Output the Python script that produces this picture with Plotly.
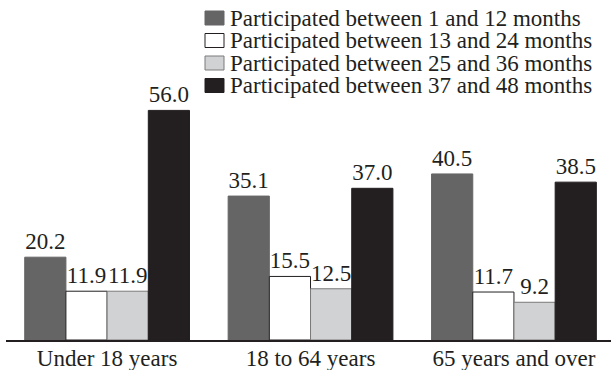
import plotly.graph_objects as go

categories = ["Under 18 years", "18 to 64 years", "65 years and over"]
series_names = [
    "Participated between 1 and 12 months",
    "Participated between 13 and 24 months",
    "Participated between 25 and 36 months",
    "Participated between 37 and 48 months",
]
values_1_12 = [20.2, 35.1, 40.5]
values_13_24 = [11.9, 15.5, 11.7]
values_25_36 = [11.9, 12.5, 9.2]
values_37_48 = [56.0, 37.0, 38.5]

series_values = [values_1_12, values_13_24, values_25_36, values_37_48]
fills = ["#666566", "#ffffff", "#d1d2d4", "#231f20"]
outlines = ["#666566", "#231f20", "#7a7a7a", "#231f20"]

FONT = "Liberation Serif"
INK = "#231f20"
FS = 23

W, H = 612, 370
ML, MR, MT, MB = 6, 1, 94, 30
PW, PH = W - ML - MR, H - MT - MB


def px_x(x):
    return (x - ML) / PW


def px_y(y):
    return (H - MB - y) / PH


fig = go.Figure()
for name, vals, fill, edge in zip(series_names, series_values, fills, outlines):
    fig.add_trace(go.Bar(
        name=name,
        x=categories,
        y=vals,
        marker=dict(color=fill, line=dict(color=edge, width=1)),
        text=[f"{v:.1f}" for v in vals],
        textposition="outside",
        textfont=dict(family=FONT, size=FS, color=INK),
        cliponaxis=False,
        showlegend=False,
    ))

# Legend drawn as swatches + labels in the top-right corner
row_centers = [18, 40.5, 63, 85.5]
shapes = []
annotations = []
for name, fill, edge, cy in zip(series_names, fills, outlines, row_centers):
    shapes.append(dict(
        type="rect", xref="paper", yref="paper",
        x0=px_x(205), x1=px_x(224), y0=px_y(cy + 7), y1=px_y(cy - 7),
        fillcolor=fill, line=dict(color=edge, width=1),
    ))
    annotations.append(dict(
        xref="paper", yref="paper", x=px_x(228), y=px_y(cy),
        xanchor="left", yanchor="middle", showarrow=False,
        text=name, font=dict(family=FONT, size=FS, color=INK),
    ))

fig.update_layout(
    width=W,
    height=H,
    barmode="group",
    bargap=0.19,
    bargroupgap=0,
    plot_bgcolor="white",
    paper_bgcolor="white",
    font=dict(family=FONT, size=FS, color=INK),
    margin=dict(l=ML, r=MR, t=MT, b=MB, pad=0, autoexpand=False),
    showlegend=False,
    shapes=shapes,
    annotations=annotations,
    xaxis=dict(
        range=[-0.497, 2.477],
        showline=True, linecolor=INK, linewidth=2,
        ticks="", showgrid=False,
        ticklabelstandoff=-4,
        tickfont=dict(family=FONT, size=FS, color=INK),
    ),
    yaxis=dict(
        range=[0, 60],
        visible=False,
        showgrid=False,
        zeroline=False,
    ),
)

fig.write_html("out.html")
